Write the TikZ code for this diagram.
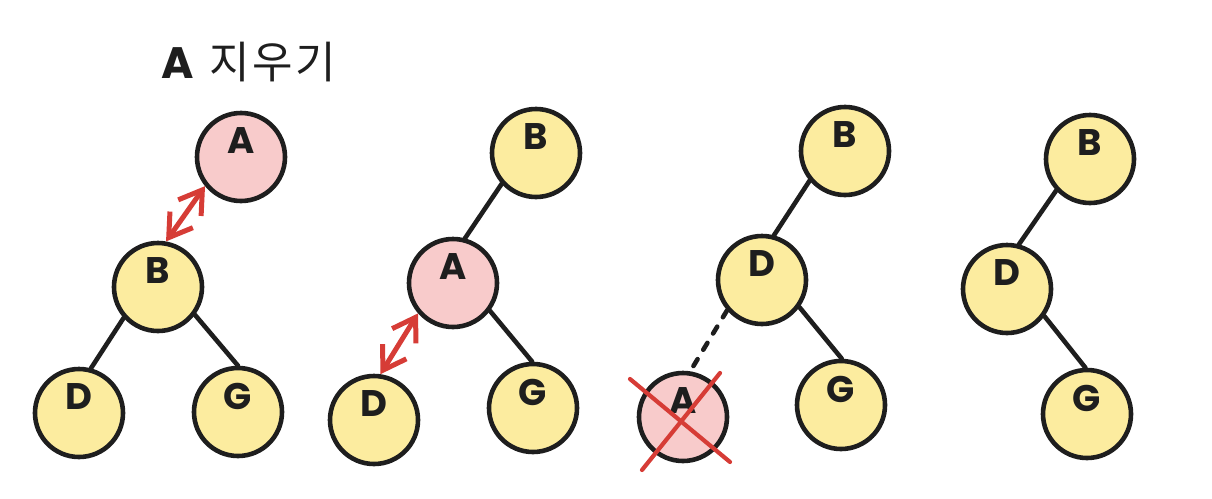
\documentclass[tikz,border=0pt]{standalone}
\usepackage{fontspec}
\setmainfont{Poppins}
\newfontfamily\krfont[LetterSpace=6]{Noto Sans CJK KR}
\usetikzlibrary{arrows.meta,calc}
\definecolor{ink}{HTML}{1E1E1E}
\definecolor{yelfill}{HTML}{FCEC9F}
\definecolor{pinkfill}{HTML}{F8CBCB}
\definecolor{redc}{HTML}{D63C36}
\begin{document}
\begin{tikzpicture}[x=1pt,y=-1pt,
  tnode/.style={circle,draw=ink,line width=4.6pt,minimum size=88pt,inner sep=0pt},
  yel/.style={tnode,fill=yelfill},
  pnk/.style={tnode,fill=pinkfill},
  lab/.style={font=\fontsize{37}{37}\selectfont\bfseries,text=ink},
  edgeline/.style={draw=ink,line width=4.6pt,line cap=round},
  dashline/.style={draw=ink,line width=4.6pt,line cap=round,dash pattern=on 8pt off 11pt},
  swaparrow/.style={draw=redc,line width=5pt,line cap=round,
    {Straight Barb[length=22pt,width=28pt]}-{Straight Barb[length=22pt,width=28pt]}},
  cross/.style={draw=redc,line width=4.2pt,line cap=round},
]
\useasboundingbox (0,0) rectangle (1212,498);

\node[font=\fontsize{44}{44}\selectfont,text=ink,anchor=west] (title) at (158,62) {{\bfseries A}\hspace{4pt} {\krfont 지우기}};

% tree 1
\node[pnk,label={[lab,yshift=16pt]center:A}] (A1) at (241,157) {};
\node[yel,label={[lab,yshift=16pt]center:B}] (B1) at (158,287) {};
\node[yel,label={[lab,yshift=16pt]center:D}] (D1) at (79,413) {};
\node[yel,label={[lab,yshift=16pt]center:G}] (G1) at (238,412) {};
\draw[edgeline] (B1.222) -- (D1.75);
\draw[edgeline] (B1.-37) -- (G1.90);
\draw[swaparrow] (A1.219) -- (B1.80);

% tree 2
\node[yel,label={[lab,yshift=16pt]center:B}] (B2) at (536,153) {};
\node[pnk,label={[lab,yshift=16pt]center:A}] (A2) at (453,283) {};
\node[yel,label={[lab,yshift=16pt]center:D}] (D2) at (374,420) {};
\node[yel,label={[lab,yshift=16pt]center:G}] (G2) at (533,408) {};
\draw[edgeline] (B2.222) -- (A2.75);
\draw[edgeline] (A2.-37) -- (G2.91);
\draw[swaparrow] (A2.221) -- (D2.82);

% tree 3
\node[yel,label={[lab,yshift=16pt]center:B}] (B3) at (845,151) {};
\node[yel,label={[lab,yshift=16pt]center:D}] (D3) at (762,280) {};
\node[pnk,label={[lab,yshift=16pt]center:A}] (A3) at (683,417) {};
\node[yel,label={[lab,yshift=16pt]center:G}] (G3) at (841,405) {};
\draw[edgeline] (B3.220) -- (D3.75);
\draw[edgeline] (D3.-36) -- (G3.89);
\draw[dashline] (D3.221) -- (A3.81);
\draw[cross] ($(A3)+(-53,-38)$) coordinate (x1) -- ($(A3)+(47,45)$) coordinate (x2);
\draw[cross] ($(A3)+(37,-44)$) coordinate (x3) -- ($(A3)+(-41,53)$) coordinate (x4);

% tree 4
\node[yel,label={[lab,yshift=16pt]center:B}] (B4) at (1090,159) {};
\node[yel,label={[lab,yshift=16pt]center:D}] (D4) at (1007,289) {};
\node[yel,label={[lab,yshift=16pt]center:G}] (G4) at (1087,414) {};
\draw[edgeline] (B4.223) -- (D4.75);
\draw[edgeline] (D4.-36) -- (G4.92);
\end{tikzpicture}
\end{document}
